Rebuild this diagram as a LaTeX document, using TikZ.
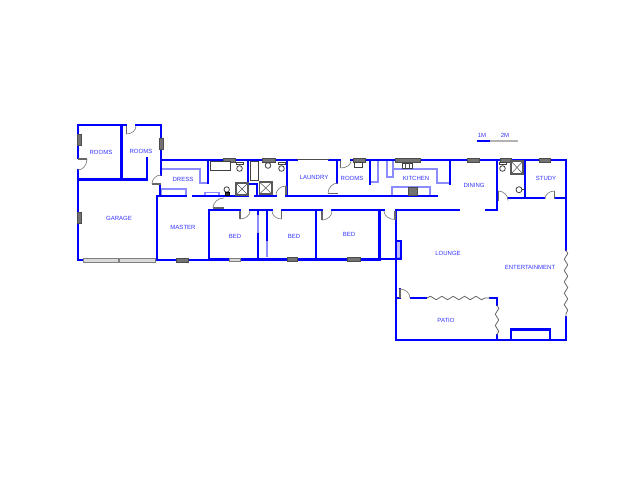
\documentclass[tikz,border=0pt]{standalone}
\usepackage{fontspec}
\setmainfont{Liberation Sans}
\usetikzlibrary{calc,decorations.pathmorphing}

% door: hinge, leaf tip, strike point
\newcommand{\swingdoor}[3]{
	\draw[doorjamb] #1 -- #2;
	\draw[doorline] #2 .. controls ($#2!0!#1+0.55*#3-0.55*#1$) and ($#3+0.55*#2-0.55*#1$) .. #3;
}

\begin{document}
\begin{tikzpicture}[
	x=0.75pt, y=-0.75pt,
	wall/.style = {draw=blue, line width=2.1pt, line cap=rect},
	thinwall/.style = {draw=blue!45!white, line width=0.8pt},
	doorline/.style = {draw=black!50, line width=0.5pt},
	doorjamb/.style = {draw=black!60, line width=1.1pt},
	glazing/.style = {draw=black!70, fill=black!55, line width=0.3pt},
	slider/.style = {draw=black!50, fill=black!15, line width=0.5pt},
	fixture/.style = {draw=black!75, fill=white, line width=0.6pt},
	shower/.style = {draw=black!65, line width=0.4pt},
	folding/.style = {draw=black!60, line width=0.6pt,
		decorate, decoration={snake, amplitude=1.3pt, segment length=8.5pt}},
	roomlabel/.style = {text=blue!80!white, font=\fontsize{4.5}{5}\selectfont, inner sep=0pt}
]
\useasboundingbox (0,0) rectangle (640,480);

% thin partitions and counters
\draw[thinwall, fill=blue!25!white] (396,241) rectangle (401,258);
\draw[thinwall] (162,169) -- (200,169) -- (200,183) -- (208,183);
\draw[thinwall] (161,189) rectangle (186,196);
\draw[thinwall] (205,196) -- (205,192.5) -- (219,192.5) -- (219,196);
\draw[thinwall] (258,214) -- (258,234);
\draw[thinwall] (267,240) -- (267,257);
\draw[thinwall] (370,182) -- (378,182) -- (378,161);
\draw[thinwall] (387,161) -- (387,177) -- (393,177) -- (393,161);
\draw[thinwall] (393,169) -- (437,169) -- (437,183) -- (450,183);
\draw[thinwall] (392,195) -- (392,187) -- (430,187) -- (430,195);

% walls
\draw[wall] (126,125) -- (78,125) -- (78,158);
\draw[wall] (136,125) -- (161,125) -- (161,175);
\draw[wall] (78,170) -- (78,260) -- (83,260);
\draw[wall] (121.5,125) -- (121.5,179.5);
\draw[wall] (78,179.5) -- (147,179.5) -- (147,158);
\draw[wall] (160,185) -- (160,196);
\draw[wall] (161,160) -- (297,160);
\draw[wall] (329,160) -- (340,160);
\draw[wall] (351,160) -- (566,160) -- (566,250);
\draw[wall] (186,196) -- (157,196) -- (157,260);
\draw[wall] (155,260) -- (209,260);
\draw[wall] (209,259.5) -- (380,259.5);
\draw[wall] (193,196) -- (248,196);
\draw[wall] (255,196) -- (276,196);
\draw[wall] (286,196) -- (437,196);
\draw[wall] (209,260) -- (209,210) -- (240,210);
\draw[wall] (250,210) -- (272,210);
\draw[wall] (282,210) -- (322,210);
\draw[wall] (332,210) -- (384,210);
\draw[wall] (258,210) -- (258,214);
\draw[wall] (258,234) -- (258,259);
\draw[wall] (267,210) -- (267,240);
\draw[wall] (316,210) -- (316,259);
\draw[wall] (379.5,210) -- (379.5,259) -- (401,259) -- (401,241) -- (396,241);
\draw[wall] (208,160) -- (208,183);
\draw[wall] (248,160) -- (248,196);
\draw[wall] (249,184) -- (257,184) -- (257,196);
\draw[wall] (287,160) -- (287,196);
\draw[wall] (337,160) -- (337,183);
\draw[wall] (370,160) -- (370,184);
\draw[wall] (450,160) -- (450,184);
\draw[wall] (497,160) -- (497,210) -- (486,210);
\draw[wall] (396,210) -- (459,210);
\draw[wall] (396,210) -- (396,340) -- (566,340) -- (566,317);
\draw[wall] (525,160) -- (525,198);
\draw[wall] (508,198) -- (544,198);
\draw[wall] (556,198) -- (566,198);
\draw[wall] (396,298) -- (400,298) -- (400,289);
\draw[wall] (411,298) -- (426,298);
\draw[wall] (490,298) -- (497,298) -- (497,305);
\draw[wall] (497,335) -- (497,340);
\draw[wall] (511,340) -- (511,329.5) -- (550,329.5) -- (550,340);

% folding doors
\draw[folding] (427,298) -- (490,298);
\draw[folding] (497,305) -- (497,335);
\draw[folding] (566,250) -- (566,317);

% windows
\foreach \wx/\wy/\ww/\wh in {77/134/4/11, 159/138/4/11, 77/212/4/11, 176/258/12/4,
	223/158/12/4, 262/158/13/4, 287/257.5/10/4, 347/257.5/13/4,
	353/158/12/4, 395/158/25/4, 467/158/12/4, 500/158/11/4, 539/158/11/4} {
	\draw[glazing] (\wx,\wy) rectangle ++(\ww,\wh);
}
\draw[slider] (83,258.5) rectangle (118,262);
\draw[slider] (119.5,258.5) rectangle (155,262);
\draw[slider] (229,258) rectangle (240,261);
\draw[draw=black!70, line width=0.5pt] (297,159.5) -- (329,159.5);
\draw[draw=black!70, line width=1.2pt] (297,159.5) -- (298.5,159.5) (311,159.5) -- (316,159.5) (327.5,159.5) -- (329,159.5);

% doors
\swingdoor{(126.5,126)}{(126.5,134)}{(136,126)}
\swingdoor{(78,159)}{(87,159)}{(78,170)}
\swingdoor{(161,184)}{(152,184)}{(161,175)}
\swingdoor{(224,208)}{(213,208)}{(224,198)}
\swingdoor{(240,211)}{(240,219)}{(250,211)}
\swingdoor{(281.7,211)}{(281.7,219)}{(272,211)}
\swingdoor{(322,211)}{(322,220)}{(332,211)}
\swingdoor{(286,195)}{(286,186)}{(276,195)}
\swingdoor{(338,193.5)}{(328,193.5)}{(338,183)}
\swingdoor{(340.5,161)}{(340.5,168)}{(351,161)}
\swingdoor{(395,211)}{(395,219.5)}{(384,211)}
\swingdoor{(498.3,200.5)}{(498.3,191)}{(508,200.5)}
\swingdoor{(554.5,199)}{(554.5,191)}{(545,199)}
\swingdoor{(400,298)}{(400,289)}{(410,298)}

% bath, basins, showers
\draw[fixture] (210,161.5) rectangle (230,170);
\draw[fixture] (250.5,161.5) rectangle (258,180);
\foreach \tx/\ty in {236/162, 278/162, 499/162} {
	\draw[fixture] (\tx,\ty) rectangle ++(7,2.5);
	\draw[fixture] (\tx+3.5,\ty+6.5) circle (2.8);
}
\draw[fixture] (268,165.5) circle (2.8);
\foreach \bx/\by/\bw/\bh in {236/183/12/12, 259.5/182/12.5/12, 511/161/12/13} {
	\draw[fixture, draw=black!65, line width=0.9pt] (\bx,\by) rectangle ++(\bw,\bh);
	\draw[shower] (\bx,\by) -- ++(\bw,\bh) (\bx+\bw,\by) -- ++(-\bw,\bh);
}
\draw[fixture] (226.7,189.5) circle (2.7);
\draw[fill=black!80] (225,192.5) rectangle (229,195);
\draw[fixture] (519,189.7) circle (3);
\draw[draw=black!80, line width=0.7pt] (522,189.7) -- (524.5,189.7);

% sinks and stove
\draw[fixture] (354,162) rectangle (362,167);
\draw[fixture] (402,163) rectangle (412,168.5);
\draw[draw=black!70, line width=0.7pt] (405,163.5) -- (405,168) (409,163.5) -- (409,168);
\draw[fill=black!55, draw=black!70, line width=0.3pt] (408,187) rectangle (417,195);

% scale bar
\draw[draw=blue, line width=1.4pt] (477,140.7) -- (490,140.7);
\draw[draw=black!30, line width=1.4pt] (490,140.7) -- (518,140.7);
\node (scaleone) [roomlabel] at (482,135.7) {1M};
\node (scaletwo) [roomlabel] at (505,135.7) {2M};

% room names
\node (roomsa)  [roomlabel] at (101,152) {ROOMS};
\node (roomsb)  [roomlabel] at (141,151) {ROOMS};
\node (garage)  [roomlabel] at (119,218) {GARAGE};
\node (master)  [roomlabel] at (183,227) {MASTER};
\node (dress)   [roomlabel] at (183,179.5) {DRESS};
\node (beda)    [roomlabel] at (235,236) {BED};
\node (bedb)    [roomlabel] at (294,236) {BED};
\node (bedc)    [roomlabel] at (349,234.5) {BED};
\node (laundry) [roomlabel] at (314,177.5) {LAUNDRY};
\node (roomsc)  [roomlabel] at (352,178) {ROOMS};
\node (kitchen) [roomlabel] at (416,178) {KITCHEN};
\node (dining)  [roomlabel] at (474,185) {DINING};
\node (study)   [roomlabel] at (546,178.5) {STUDY};
\node (lounge)  [roomlabel] at (448,253.5) {LOUNGE};
\node (enter)   [roomlabel] at (530,267) {ENTERTAINMENT};
\node (patio)   [roomlabel] at (446,320) {PATIO};
\end{tikzpicture}
\end{document}
